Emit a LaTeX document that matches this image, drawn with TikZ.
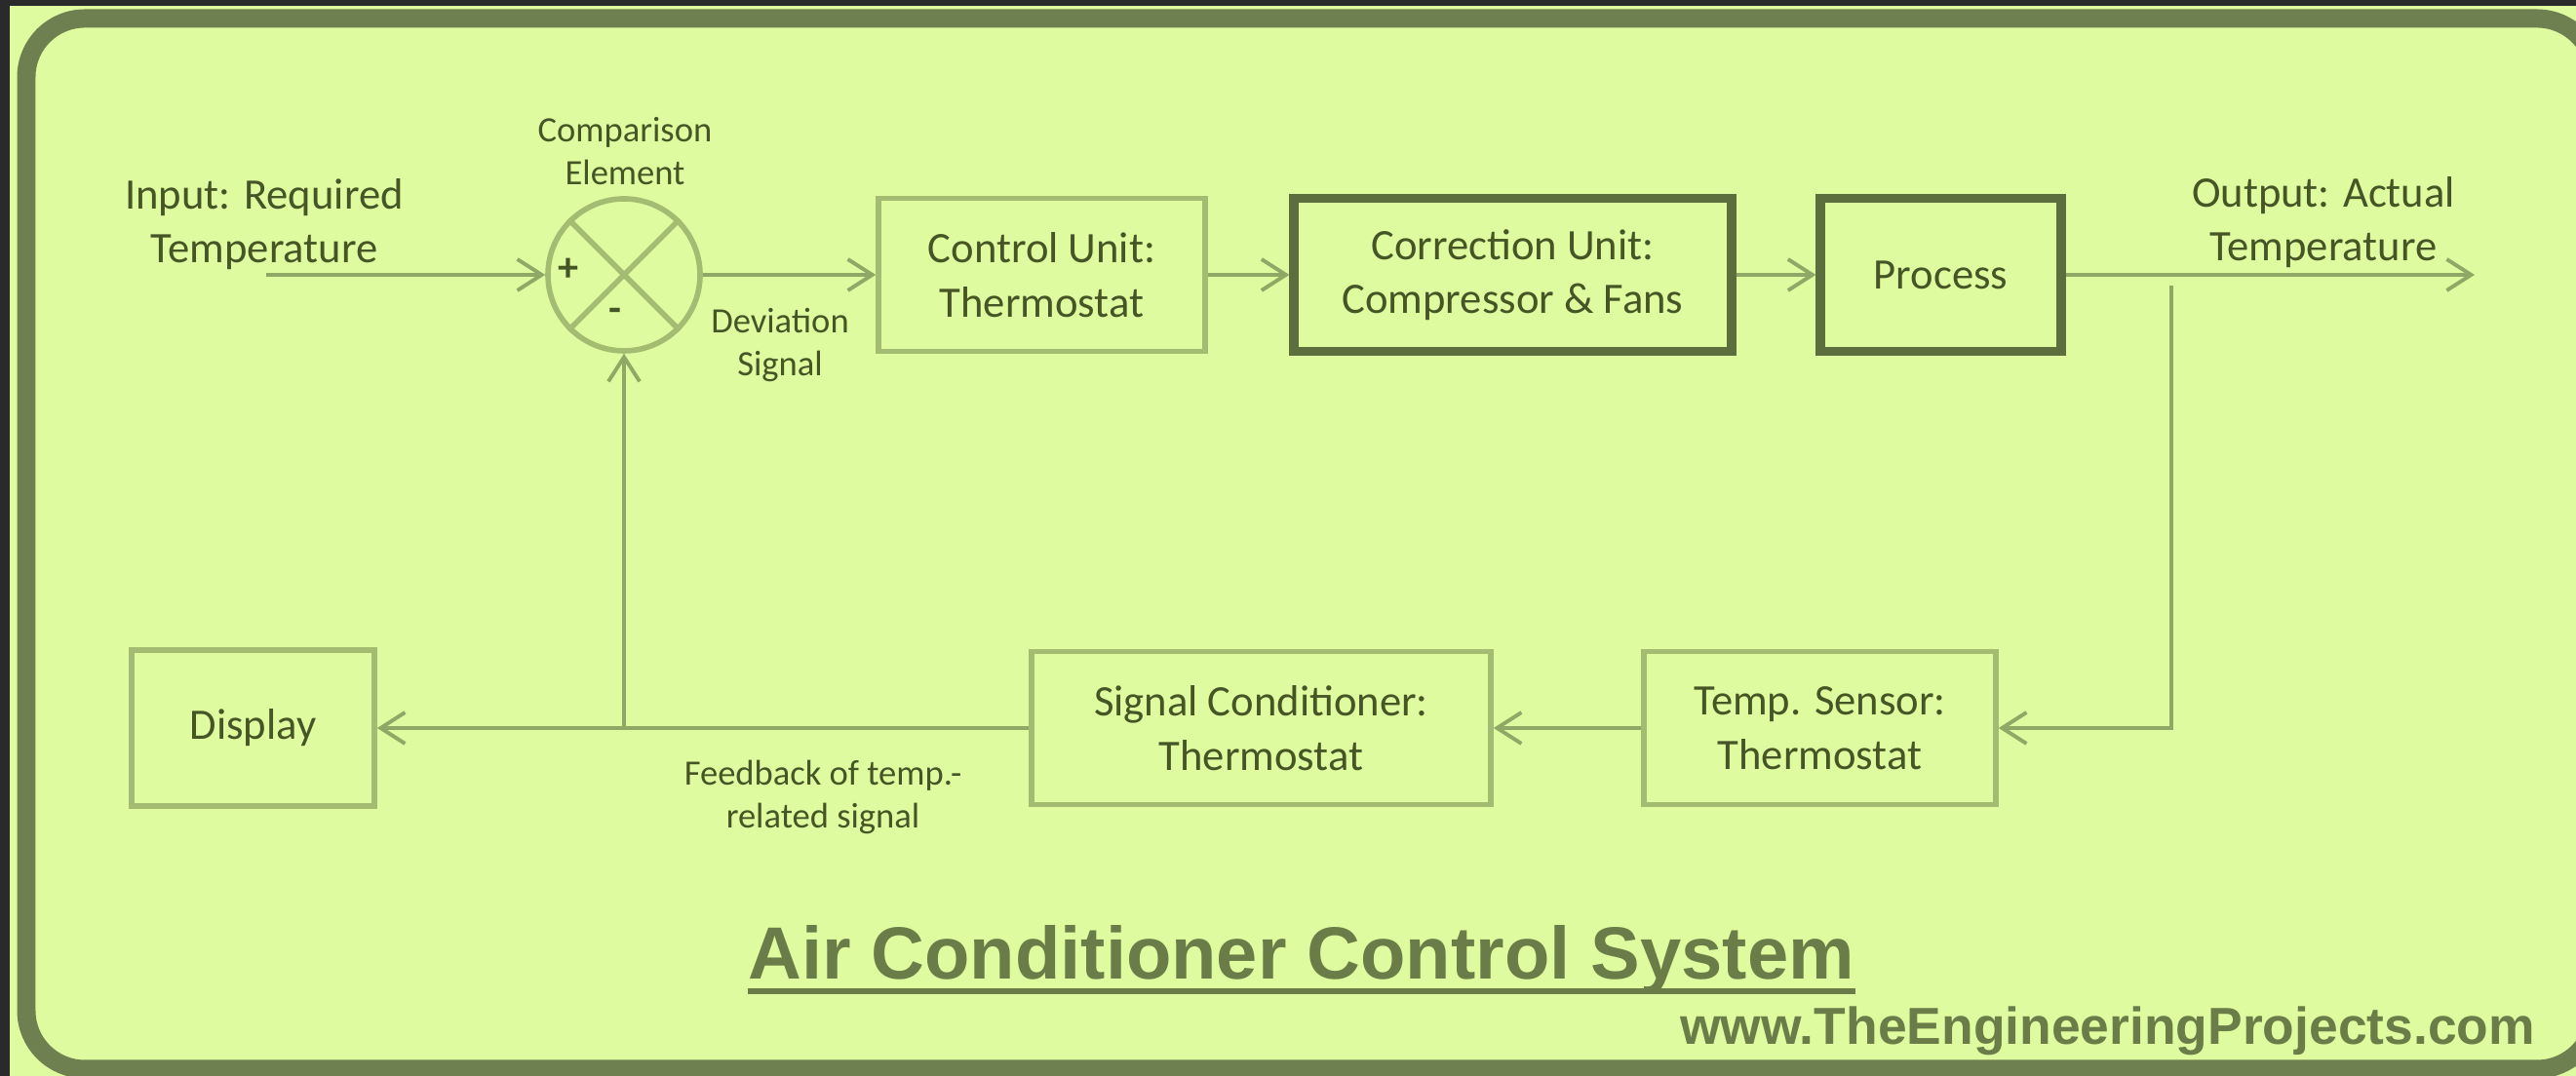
\documentclass[tikz,border=0pt]{standalone}
\usepackage{fontspec}
\setmainfont{Carlito}
\newfontfamily\headfont{Liberation Sans}
\usetikzlibrary{arrows.meta, positioning, calc}

\definecolor{darkbg}{HTML}{2A2A2A}
\definecolor{bgpale}{HTML}{DFFB9F}
\definecolor{framegreen}{HTML}{6E8050}
\definecolor{boxline}{HTML}{A3BC72}
\definecolor{boxdark}{HTML}{5D6E3E}
\definecolor{arrline}{HTML}{8FA865}
\definecolor{txt}{HTML}{465525}
\definecolor{titlegreen}{HTML}{6A7D48}

\begin{document}
\begin{tikzpicture}[
            box/.style={draw=boxline, line width=1.6pt, minimum height=1.57cm, align=center, text=txt, inner sep=0pt, font=\fontsize{12.7}{15.8}\selectfont},
            heavybox/.style={box, draw=boxdark, line width=2.6pt},
            lbl/.style={align=center, text=txt, inner sep=0pt, font=\fontsize{12.7}{15.8}\selectfont},
            smalllbl/.style={align=center, text=txt, inner sep=0pt, font=\fontsize{10.4}{12.3}\selectfont},
            sumcircle/.style={draw=boxline, line width=1.6pt, circle, minimum size=1.56cm, inner sep=0pt},
            arr/.style={-{Straight Barb[length=0.25cm, width=0.32cm]}, line width=1.1pt, draw=arrline},
            frame/.style={draw=framegreen, line width=5.4pt, rounded corners=0.6cm}
        ]
            % Background and frame
            \path[use as bounding box, clip] (0,0) rectangle (26.42,11.04);
            \fill[darkbg] (0,0) rectangle (26.42,11.04);
            \fill[bgpale] (0.10,0) rectangle (26.42,10.98);
            \draw[frame] (0.27,10.85) rectangle (26.62,0.07);

            % Forward path
            \node[sumcircle] (cmp) at (6.40, 8.22) {};
            \draw[boxline, line width=1.6pt] (cmp.north west) -- (cmp.south east);
            \draw[boxline, line width=1.6pt] (cmp.north east) -- (cmp.south west);
            \node[text=txt, font=\bfseries\fontsize{12}{14}\selectfont] (plus) at (5.83, 8.27) {+};
            \node[text=txt, font=\bfseries\fontsize{12}{14}\selectfont] (minus) at (6.31, 7.81) {-};

            \node[box, minimum width=3.35cm] (ctrl) at (10.685, 8.22) {Control Unit:\\Thermostat};
            \node[heavybox, minimum width=4.49cm] (corr) at (15.515, 8.22) {Correction Unit:\\Compressor \& Fans};
            \node[heavybox, minimum width=2.47cm] (proc) at (19.905, 8.22) {Process};

            \coordinate (in) at (2.73, 8.22);
            \coordinate (out) at (25.38, 8.22);
            \draw[arr] (in) -- (cmp.west);
            \draw[arr] (cmp.east) -- (ctrl.west);
            \draw[arr] (ctrl) -- (corr);
            \draw[arr] (corr) -- (proc);
            \draw[arr] (proc.east) -- (out);

            % Feedback path
            \node[box, minimum width=3.61cm] (sens) at (18.665, 3.57) {Temp. Sensor:\\Thermostat};
            \node[box, minimum width=4.71cm] (sigc) at (12.935, 3.57) {Signal Conditioner:\\Thermostat};
            \node[box, minimum width=2.49cm, minimum height=1.60cm] (disp) at (2.595, 3.57) {Display};

            \coordinate (tap) at (22.27, 8.11);
            \draw[arr] (tap) |- (sens.east);
            \draw[arr] (sens) -- (sigc);
            \draw[arr] (sigc.west) -- (disp.east);
            \coordinate (junc) at (cmp.south |- sigc.west);
            \draw[arr] (junc) -- (cmp.south);

            % Labels
            \node[lbl] (inlbl) at (2.71, 8.74) {Input: Required\\Temperature};
            \node[lbl] (outlbl) at (23.83, 8.76) {Output: Actual\\Temperature};
            \node[smalllbl] (cmplbl) at (6.41, 9.49) {Comparison\\Element};
            \node[smalllbl] (devlbl) at (8.00, 7.50) {Deviation\\Signal};
            \node[smalllbl] (fblbl) at (8.44, 2.86) {Feedback of temp.-\\related signal};

            % Title and site
            \node[anchor=base, inner sep=0pt, text=titlegreen, font=\headfont\bfseries\fontsize{21.6}{26}\selectfont] (title) at (13.345, 0.99) {Air Conditioner Control System};
            \draw[titlegreen, line width=1.7pt] ([yshift=-0.12cm]title.base west) -- ([yshift=-0.12cm]title.base east);
            \node[anchor=base, inner sep=0pt, text=titlegreen, font=\headfont\bfseries\fontsize{15.2}{18}\selectfont] (site) at (21.615, 0.32) {www.TheEngineeringProjects.com};

        \end{tikzpicture}
\end{document}
